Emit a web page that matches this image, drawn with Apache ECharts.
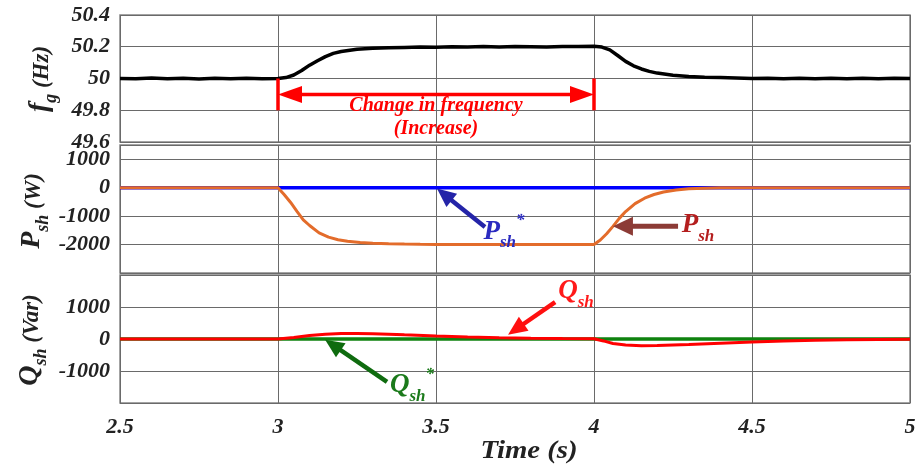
<!DOCTYPE html>
<html><head><meta charset="utf-8">
<script src="https://cdn.jsdelivr.net/npm/echarts@6/dist/echarts.min.js"></script>
<style>html,body{margin:0;padding:0;background:#fff}#c{width:922px;height:468px}</style>
</head><body><div id="c"></div>
<script>
// ---------- data ----------
const xTickLabels = ['2.5', '3', '3.5', '4', '4.5', '5'];
const fTickLabels = ['49.6', '49.8', '50', '50.2', '50.4'];
const pTickLabels = ['1000', '0', '-1000', '-2000'];
const qTickLabels = ['1000', '0', '-1000'];

const freqT = [2.5, 2.55, 2.6, 2.65, 2.7, 2.75, 2.8, 2.85, 2.9, 2.95, 3.0,
  3.025, 3.05, 3.075, 3.1, 3.125, 3.15, 3.175, 3.2, 3.25, 3.3, 3.35, 3.4, 3.45, 3.5,
  3.55, 3.6, 3.65, 3.7, 3.75, 3.8, 3.85, 3.9, 3.95, 4.0,
  4.025, 4.05, 4.075, 4.1, 4.125, 4.15, 4.175, 4.2, 4.25, 4.3, 4.35, 4.4, 4.45, 4.5,
  4.55, 4.6, 4.65, 4.7, 4.75, 4.8, 4.85, 4.9, 4.95, 5.0];
const freqV = [50.000, 49.998, 50.003, 49.999, 50.002, 49.997, 50.001, 49.999, 50.002, 49.998, 50.000,
  50.006, 50.022, 50.050, 50.084, 50.112, 50.138, 50.158, 50.170, 50.184, 50.190, 50.193, 50.196, 50.198, 50.197,
  50.200, 50.198, 50.201, 50.199, 50.201, 50.200, 50.198, 50.201, 50.202, 50.203,
  50.198, 50.180, 50.145, 50.108, 50.080, 50.060, 50.045, 50.034, 50.020, 50.013, 50.008, 50.006, 50.003, 50.000,
  50.001, 49.998, 50.002, 49.999, 50.001, 49.998, 50.002, 49.999, 50.001, 50.000];

const pshT = [2.5, 3.0, 3.02, 3.04, 3.06, 3.08, 3.1, 3.13, 3.16, 3.19, 3.22, 3.26, 3.3, 3.35, 3.4, 3.45, 3.5, 3.6,
  4.0, 4.02, 4.04, 4.06, 4.08, 4.1, 4.13, 4.16, 4.19, 4.22, 4.26, 4.3, 4.35, 4.4, 4.45, 5.0];
const pshV = [0, 0, -250, -520, -830, -1130, -1330, -1590, -1740, -1830, -1885, -1925, -1950, -1970, -1983, -1991, -1996, -2000,
  -2000, -1840, -1620, -1360, -1080, -840, -560, -370, -240, -150, -80, -40, -18, -7, -2, 0];
const pshRefT = [2.5, 5.0];
const pshRefV = [0, 0];

const qshT = [2.5, 3.0, 3.05, 3.1, 3.15, 3.2, 3.25, 3.3, 3.35, 3.4, 3.5, 3.6, 3.7, 3.8, 3.9, 4.0,
  4.03, 4.06, 4.1, 4.15, 4.2, 4.3, 4.4, 4.5, 4.6, 4.7, 4.8, 4.9, 5.0];
const qshV = [0, 0, 50, 110, 150, 170, 172, 165, 150, 130, 95, 65, 42, 25, 14, 8,
  -60, -140, -190, -210, -205, -175, -135, -95, -65, -42, -25, -12, -5];
const qshRefT = [2.5, 5.0];
const qshRefV = [0, 0];

// ---------- chart ----------
const FONT = '"Liberation Serif","Times New Roman",serif';
const pair = (t, v) => t.map((x, i) => [x, v[i]]);
const chart = echarts.init(document.getElementById('c'));

const gridBoxes = [
  {left: 120, top: 15, width: 790, height: 127},
  {left: 120, top: 145, width: 790, height: 128},
  {left: 120, top: 275, width: 790, height: 128}
];
const labelStyle = {fontFamily: FONT, fontStyle: 'italic', fontWeight: 'bold', fontSize: 22, color: '#222'};
const splitStyle = {show: true, lineStyle: {color: '#6a6a6a', width: 1}};

const xAxes = gridBoxes.map((g, i) => ({
  type: 'value', gridIndex: i, min: 2.5, max: 5, interval: 0.5,
  axisLine: {show: false}, axisTick: {show: false}, splitLine: splitStyle,
  axisLabel: Object.assign({show: i === 2, margin: 13,
    formatter: v => { const s = String(Math.round(v * 10) / 10); return xTickLabels.includes(s) ? s : ''; }}, labelStyle)
}));
function yAx(i, min, max, interval, labels, dec) {
  return {
    type: 'value', gridIndex: i, min, max, interval,
    axisLine: {show: false}, axisTick: {show: false}, splitLine: splitStyle,
    axisLabel: Object.assign({margin: 10,
      formatter: v => { const s = String(+v.toFixed(dec)); return labels.includes(s) ? s : ''; }}, labelStyle)
  };
}
const yAxes = [
  yAx(0, 49.6, 50.4, 0.2, fTickLabels, 1),
  yAx(1, -3000, 1500, 1000, pTickLabels, 0),
  yAx(2, -2000, 2000, 1000, qTickLabels, 0)
];
function ln(idx, data, color, width, z) {
  return {type: 'line', xAxisIndex: idx, yAxisIndex: idx, data, symbol: 'none', z,
    lineStyle: {color, width}, itemStyle: {color}, silent: true};
}
chart.setOption({
  animation: false,
  grid: gridBoxes.map(g => Object.assign({show: true, borderColor: '#858585', borderWidth: 1.5}, g)),
  xAxis: xAxes, yAxis: yAxes,
  series: [
    ln(0, pair(freqT, freqV), '#000000', 3.5, 3),
    ln(1, pair(pshRefT, pshRefV), '#0000FF', 3.5, 2),
    ln(1, pair(pshT, pshV), '#E36C2B', 3, 3),
    ln(2, pair(qshRefT, qshRefV), '#0E820E', 3.5, 2),
    ln(2, pair(qshT, qshV), '#FF0000', 3, 3)
  ]
});

// ---------- annotations (placed through the axes) ----------
const px = (g, p) => chart.convertToPixel({gridIndex: g}, p);
function arrow(g, from, to, color, w, headLen, headW) {
  const S = px(g, from), T = px(g, to);
  const dx = T[0] - S[0], dy = T[1] - S[1], L = Math.hypot(dx, dy);
  const ux = dx / L, uy = dy / L, nx = -uy, ny = ux;
  const B = [T[0] - ux * headLen, T[1] - uy * headLen];
  return [
    {type: 'line', z: 100, shape: {x1: S[0], y1: S[1], x2: B[0] + ux * 2, y2: B[1] + uy * 2},
      style: {stroke: color, lineWidth: w}},
    {type: 'polygon', z: 100, shape: {points: [T, [B[0] + nx * headW / 2, B[1] + ny * headW / 2], [B[0] - nx * headW / 2, B[1] - ny * headW / 2]]},
      style: {fill: color}}
  ];
}
function bar(g, a, b, color, w) {
  const A = px(g, a), B = px(g, b);
  return {type: 'line', z: 100, shape: {x1: A[0], y1: A[1], x2: B[0], y2: B[1]}, style: {stroke: color, lineWidth: w}};
}
function rs(size, color, padB) {
  return {fontSize: size, fontStyle: 'italic', fontWeight: 'bold', fontFamily: FONT,
    fill: color, color: color, verticalAlign: 'bottom', padding: [0, 0, padB, 0]};
}
function rich(x, y, text, color, sizes, rot) {
  return {type: 'text', z: 101, x, y, rotation: rot || 0,
    style: {text, align: 'center', verticalAlign: 'middle', textAlign: 'center', textVerticalAlign: 'middle',
      rich: {m: rs(sizes[0], color, 6), s: rs(sizes[1], color, 0), u: rs(sizes[2], color, 6), p: rs(sizes[1], color, 22)}}};
}
function plain(g, p, text, color, size) {
  const P = px(g, p);
  return {type: 'text', z: 101, x: P[0], y: P[1],
    style: {text, fill: color, font: 'italic bold ' + size + 'px ' + FONT,
      align: 'center', verticalAlign: 'middle', textAlign: 'center', textVerticalAlign: 'middle'}};
}
function richAt(g, p, text, color, sizes) {
  const P = px(g, p);
  return rich(P[0], P[1], text, color, sizes, 0);
}

const R = '#FF0000';
let gfx = [];
gfx.push(bar(0, [3, 50], [3, 49.8], R, 3.5));
gfx.push(bar(0, [4, 50], [4, 49.8], R, 3.5));
gfx = gfx.concat(arrow(0, [3.5, 49.9], [3, 49.9], R, 3.5, 24, 17));
gfx = gfx.concat(arrow(0, [3.5, 49.9], [4, 49.9], R, 3.5, 24, 17));
gfx.push(plain(0, [3.5, 49.825], 'Change in frequency', R, 20));
gfx.push(plain(0, [3.5, 49.686], '(Increase)', R, 20));

gfx = gfx.concat(arrow(1, [3.655, -1387], [3.503, -30], '#2424A8', 4.5, 19, 17));
gfx = gfx.concat(arrow(1, [4.266, -1360], [4.06, -1360], '#8C3B36', 5, 20, 19));
gfx.push(richAt(1, [3.715, -1560], '{m|P}{s|sh}{p|*}', '#2B2BC0', [27, 17, 0]));
gfx.push(richAt(1, [4.329, -1433], '{m|P}{s|sh}', '#B41E1E', [27, 17, 0]));

gfx = gfx.concat(arrow(2, [3.877, 1150], [3.728, 136], '#FF1010', 4.5, 19, 17));
gfx = gfx.concat(arrow(2, [3.345, -1340], [3.149, -20], '#0F6B0F', 4.5, 19, 17));
gfx.push(richAt(2, [3.943, 1400], '{m|Q}{s|sh}', '#FF1A1A', [27, 17, 0]));
gfx.push(richAt(2, [3.424, -1444], '{m|Q}{s|sh}{p|*}', '#1B7A1B', [27, 17, 0]));

// axis titles
gfx.push(rich(43, 79, '{m|f}{s|g}{u| (Hz)}', '#222', [28, 18, 23], Math.PI / 2));
gfx.push(rich(35, 211, '{m|P}{s|sh}{u| (W)}', '#222', [28, 18, 23], Math.PI / 2));
gfx.push(rich(33, 340, '{m|Q}{s|sh}{u| (Var)}', '#222', [28, 18, 23], Math.PI / 2));
gfx.push({type: 'text', z: 101, x: 529, y: 452, scaleX: 1.15,
  style: {text: 'Time (s)', fill: '#222', font: 'italic bold 25px ' + FONT,
    align: 'center', verticalAlign: 'middle', textAlign: 'center', textVerticalAlign: 'middle'}});

chart.setOption({graphic: gfx});
</script>
</body></html>
